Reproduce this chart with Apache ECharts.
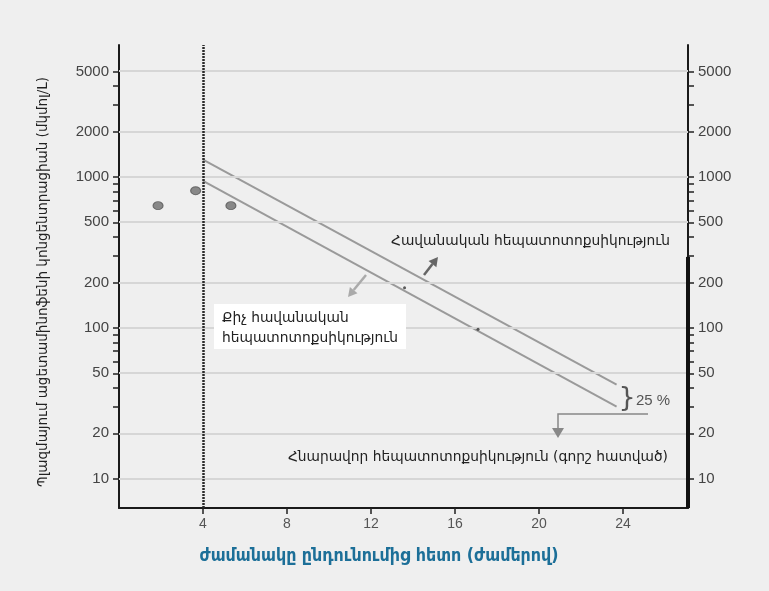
<!DOCTYPE html>
<html><head><meta charset="utf-8">
<script src="https://cdn.jsdelivr.net/npm/echarts@6/dist/echarts.min.js"></script>
<style>html,body{margin:0;padding:0;background:#efefef}#c{width:769px;height:591px}</style>
</head><body><div id="c"></div>
<script>
// ---- data ----
const xTicks = [4, 8, 12, 16, 20, 24];
const yMajor = [10, 20, 50, 100, 200, 500, 1000, 2000, 5000];
const yMinor = [30, 40, 60, 70, 80, 90, 300, 400, 600, 700, 800, 900, 3000, 4000];
const xRange = [0, 27.1];
const yRange = [6.4, 7480];
const upperLine = [[4, 1300], [23.7, 42]];
const lowerLine = [[4, 940], [23.7, 30]];
const patients = [[1.86, 645], [3.65, 810], [5.33, 645]];
const specks = [[13.6, 184], [17.1, 98]];
const rightAxisBold = [6.4, 295];
const texts = {
  yTitle: 'Պլազմայում ացետամինոֆենի կոնցենտրացիան (մկմոլ/L)',
  xTitle: 'ժամանակը ընդունումից հետո (ժամերով)',
  likely: 'Հավանական հեպատոտոքսիկություն',
  unlikely1: 'Քիչ հավանական',
  unlikely2: 'հեպատոտոքսիկություն',
  possible: 'Հնարավոր հեպատոտոքսիկություն (գորշ հատված)',
  pct: '25 %'
};

const L = v => Math.log10(v);
const toLog = arr => arr.map(p => [p[0], L(p[1])]);
const ARM = '"DejaVu Sans", "Noto Sans", sans-serif';
const NUM = '"Liberation Sans", Arial, sans-serif';
const AFS = 13.8;

function arrow(x1, y1, x2, y2, color, head, w) {
  const dx = x2 - x1, dy = y2 - y1, len = Math.hypot(dx, dy);
  const ux = dx / len, uy = dy / len, nx = -uy, ny = ux;
  const bx = x2 - ux * head, by = y2 - uy * head;
  return [
    {type: 'line', z: 20, shape: {x1: x1, y1: y1, x2: bx, y2: by}, style: {stroke: color, lineWidth: w}},
    {type: 'polygon', z: 20, shape: {points: [[x2, y2], [bx + nx * head * 0.55, by + ny * head * 0.55], [bx - nx * head * 0.55, by - ny * head * 0.55]]}, style: {fill: color}}
  ];
}

const yAxisCommon = {
  type: 'value', min: L(yRange[0]), max: L(yRange[1]),
  splitLine: {show: false},
  axisLine: {show: true, lineStyle: {color: '#1a1a1a', width: 2}},
  axisTick: {show: true, inside: false, length: 6, lineStyle: {color: '#222', width: 1.5},
    customValues: yMajor.concat(yMinor).map(L)},
  axisLabel: {show: true, customValues: yMajor.map(L), fontFamily: NUM, fontSize: 15, color: '#444', margin: 10,
    formatter: v => String(Math.round(Math.pow(10, v)))}
};

const chart = echarts.init(document.getElementById('c'));
chart.setOption({
  backgroundColor: '#efefef',
  animation: false,
  grid: {left: 119, right: 81, top: 45, bottom: 83},
  xAxis: {
    type: 'value', min: xRange[0], max: xRange[1],
    splitLine: {show: false},
    axisLine: {show: true, lineStyle: {color: '#1a1a1a', width: 2}},
    axisTick: {show: true, length: 6, lineStyle: {color: '#222', width: 1.5}, customValues: xTicks},
    axisLabel: {customValues: xTicks, fontFamily: NUM, fontSize: 14, color: '#555', margin: 9}
  },
  yAxis: [
    Object.assign({}, yAxisCommon, {position: 'left'}),
    Object.assign({}, yAxisCommon, {position: 'right'})
  ],
  series: [
    {
      type: 'line', data: [], z: 1, silent: true,
      markLine: {silent: true, symbol: 'none', label: {show: false}, animation: false,
        lineStyle: {color: '#d6d6d6', width: 2, type: 'solid'},
        emphasis: {disabled: true},
        data: yMajor.map(v => ({yAxis: L(v)}))}
    },
    {
      type: 'line', data: [], z: 4, silent: true,
      markLine: {silent: true, symbol: 'none', label: {show: false}, animation: false,
        lineStyle: {color: '#2a2a2a', width: 2.5, type: [2, 1]},
        emphasis: {disabled: true},
        data: [{xAxis: 4}]}
    },
    {type: 'line', data: toLog(upperLine), symbol: 'none', z: 3, lineStyle: {color: '#9a9a9a', width: 2}},
    {type: 'line', data: toLog(lowerLine), symbol: 'none', z: 3, lineStyle: {color: '#9a9a9a', width: 2}},
    {type: 'scatter', data: toLog(patients), symbol: 'circle', symbolSize: [10, 8], z: 5,
      itemStyle: {color: '#6e6e6e', borderColor: '#555', borderWidth: 1}},
    {type: 'scatter', data: toLog(specks), symbol: 'circle', symbolSize: 3, z: 5, itemStyle: {color: '#333'}},
    {type: 'line', data: rightAxisBold.map(v => [xRange[1], L(v)]), symbol: 'none', clip: false, z: 6,
      lineStyle: {color: '#111', width: 4}}
  ],
  graphic: [
    {type: 'rect', z: 10, shape: {x: 214, y: 304, width: 192, height: 45}, style: {fill: '#ffffff'}},
    {type: 'text', z: 20, x: 222, y: 318, style: {text: texts.unlikely1, fontFamily: ARM, fontSize: AFS, fill: '#222', align: 'left', verticalAlign: 'middle'}},
    {type: 'text', z: 20, x: 222, y: 338, style: {text: texts.unlikely2, fontFamily: ARM, fontSize: AFS, fill: '#222', align: 'left', verticalAlign: 'middle'}},
    {type: 'text', z: 20, x: 391, y: 241, style: {text: texts.likely, fontFamily: ARM, fontSize: AFS, fill: '#222', align: 'left', verticalAlign: 'middle'}},
    {type: 'text', z: 20, x: 668, y: 457, style: {text: texts.possible, fontFamily: ARM, fontSize: AFS, fill: '#222', align: 'right', verticalAlign: 'middle'}},
    {type: 'text', z: 20, x: 627, y: 399, style: {text: '}', fontFamily: ARM, fontSize: 27, fill: '#555', align: 'center', verticalAlign: 'middle'}},
    {type: 'text', z: 20, x: 636, y: 401, style: {text: texts.pct, fontFamily: NUM, fontSize: 15, fill: '#555', align: 'left', verticalAlign: 'middle'}},
    {type: 'polyline', z: 20, shape: {points: [[648, 414], [558, 414], [558, 428]]}, style: {stroke: '#888', lineWidth: 1.5, fill: null}},
    {type: 'polygon', z: 20, shape: {points: [[552, 428], [564, 428], [558, 438]]}, style: {fill: '#888'}},
    ...arrow(424, 275, 438, 257, '#666', 9, 2.5),
    ...arrow(366, 275, 348, 297, '#aaa', 9, 2.5),
    {type: 'text', z: 20, x: 43, y: 282, rotation: Math.PI / 2, style: {text: texts.yTitle, fontFamily: ARM, fontSize: 13.5, fill: '#222', align: 'center', verticalAlign: 'middle'}},
    {type: 'text', z: 20, x: 379, y: 556, style: {text: texts.xTitle, fontFamily: '"DejaVu Sans Condensed", "DejaVu Sans", sans-serif', fontWeight: 'bold', fontSize: 17.7, fill: '#1c6f98', align: 'center', verticalAlign: 'middle'}}
  ]
});
</script>
</body></html>
